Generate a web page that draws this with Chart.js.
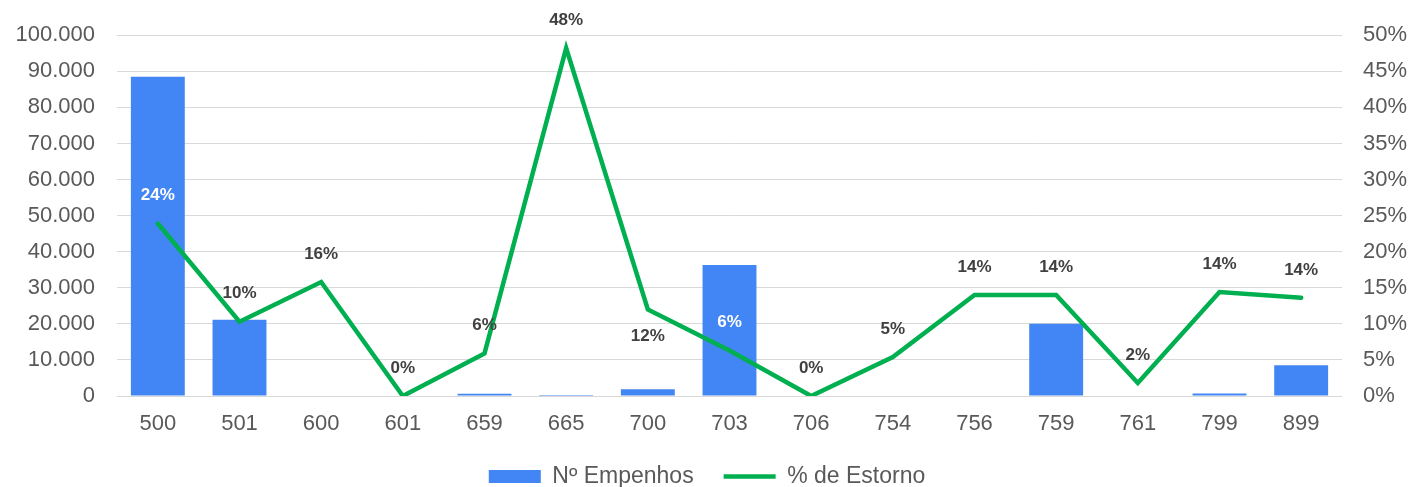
<!DOCTYPE html>
<html lang="pt-BR">
<head>
<meta charset="utf-8">
<title>Empenhos x Estorno</title>
<script src="https://cdn.jsdelivr.net/npm/chart.js@4.4.1/dist/chart.umd.min.js"></script>
<style>
  html, body { margin: 0; padding: 0; background: #fff; overflow: hidden; }
  #grafico { display: block; }
</style>
</head>
<body>
<canvas id="grafico" width="1414" height="498"></canvas>
<script>
const categorias = ['500', '501', '600', '601', '659', '665', '700', '703', '706', '754', '756', '759', '761', '799', '899'];
const empenhos = [88500, 21100, 0, 0, 600, 300, 1900, 36300, 0, 0, 0, 20000, 0, 700, 8500];
const estorno = [23.9, 10.3, 15.8, 0, 5.9, 48.2, 12.0, 6.3, 0, 5.4, 14.0, 14.0, 1.8, 14.4, 13.6];

// onde fica o rótulo de cada ponto e sua cor
const posRotulo = ['acima', 'acima', 'acima', 'acima', 'acima', 'acima', 'abaixo', 'acima', 'acima', 'acima', 'acima', 'acima', 'acima', 'acima', 'acima'];
const corRotulo = ['#ffffff', '#404040', '#404040', '#404040', '#404040', '#404040', '#404040', '#ffffff', '#404040', '#404040', '#404040', '#404040', '#404040', '#404040', '#404040'];

const fonte = "'Liberation Sans', Arial, sans-serif";
const corTexto = '#595959';
const corGrade = '#d9d9d9';

function milhar(v) {
  return String(v).replace(/\B(?=(\d{3})+(?!\d))/g, '.');
}

const rotulosLinha = {
  id: 'rotulosLinha',
  afterDatasetsDraw(chart) {
    const meta = chart.getDatasetMeta(1);
    const c = chart.ctx;
    c.save();
    c.font = 'bold 17px ' + fonte;
    c.textAlign = 'center';
    c.textBaseline = 'middle';
    meta.data.forEach((p, i) => {
      const dy = posRotulo[i] === 'abaixo' ? 27 : -28;
      c.fillStyle = corRotulo[i];
      c.fillText(Math.round(estorno[i]) + '%', p.x, p.y + dy);
    });
    c.restore();
  }
};

const ctx = document.getElementById('grafico');

new Chart(ctx, {
  type: 'bar',
  data: {
    labels: categorias,
    datasets: [{
      type: 'bar',
      label: 'Nº Empenhos',
      data: empenhos,
      backgroundColor: '#4285f4',
      borderWidth: 0,
      barPercentage: 1,
      categoryPercentage: 0.66,
      yAxisID: 'y',
      order: 2,
      pointStyle: 'rect'
    }, {
      type: 'line',
      label: '% de Estorno',
      data: estorno,
      borderColor: '#00b050',
      backgroundColor: '#00b050',
      borderWidth: 4.5,
      pointRadius: 0,
      tension: 0,
      yAxisID: 'y1',
      order: 1,
      pointStyle: 'line',
      borderCapStyle: 'round'
    }]
  },
  options: {
    responsive: false,
    animation: false,
    layout: { padding: { top: 32, bottom: 0, left: 0, right: 0 } },
    plugins: {
      tooltip: { enabled: false },
      legend: {
        position: 'bottom',
        labels: {
          usePointStyle: true,
          pointStyleWidth: 52,
          boxHeight: 13,
          padding: 30,
          color: corTexto,
          font: { family: fonte, size: 23 },
          sort: (a, b) => a.datasetIndex - b.datasetIndex
        }
      }
    },
    scales: {
      x: {
        grid: { display: false, drawTicks: false },
        border: { display: false },
        ticks: { color: corTexto, font: { family: fonte, size: 22 }, padding: 15 },
        afterFit(s) { s.height = 39; }
      },
      y: {
        position: 'left',
        min: 0,
        max: 100000,
        ticks: {
          stepSize: 10000,
          color: corTexto,
          font: { family: fonte, size: 22 },
          padding: 22,
          callback: v => milhar(v)
        },
        grid: { color: corGrade, lineWidth: 1, drawTicks: false },
        border: { display: false },
        afterFit(s) { s.width = 117; }
      },
      y1: {
        position: 'right',
        min: 0,
        max: 50,
        ticks: {
          stepSize: 5,
          color: corTexto,
          font: { family: fonte, size: 22 },
          padding: 21,
          callback: v => v + '%'
        },
        grid: { display: false, drawTicks: false },
        border: { display: false },
        afterFit(s) { s.width = 72; }
      }
    }
  },
  plugins: [rotulosLinha]
});
</script>
</body>
</html>
